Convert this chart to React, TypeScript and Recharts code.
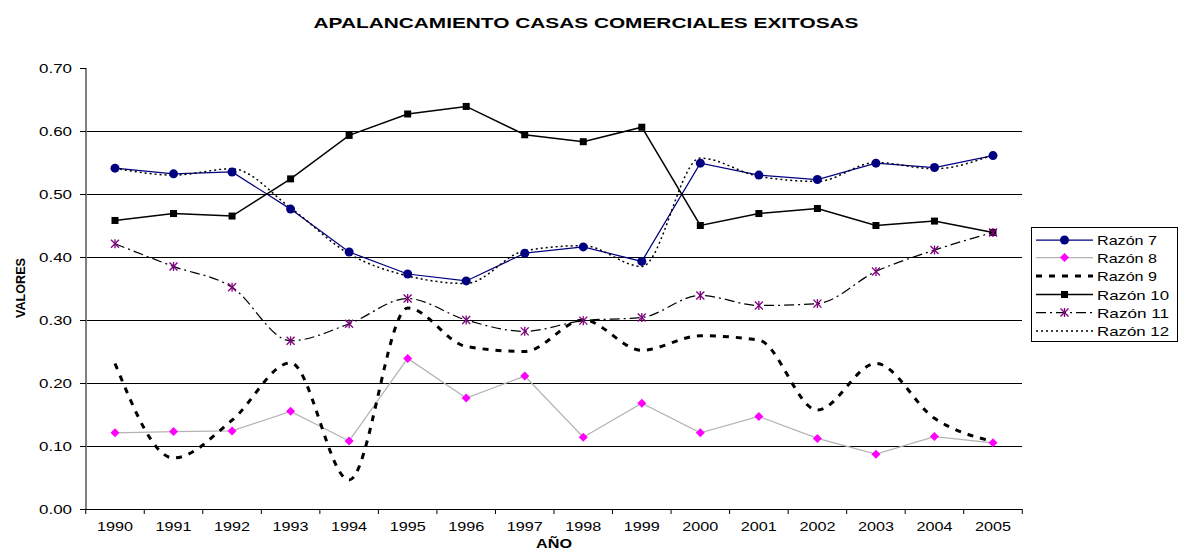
import { LineChart, Line, XAxis, YAxis, CartesianGrid, Legend } from "recharts";

const years = ["1990", "1991", "1992", "1993", "1994", "1995", "1996", "1997", "1998", "1999", "2000", "2001", "2002", "2003", "2004", "2005"];
const razon7 = [0.541, 0.532, 0.535, 0.476, 0.408, 0.373, 0.362, 0.406, 0.416, 0.393, 0.549, 0.53, 0.523, 0.549, 0.542, 0.561];
const razon8 = [0.121, 0.123, 0.124, 0.155, 0.108, 0.239, 0.176, 0.211, 0.114, 0.168, 0.121, 0.147, 0.112, 0.087, 0.115, 0.105];
const razon9 = [0.231, 0.081, 0.141, 0.232, 0.046, 0.319, 0.258, 0.25, 0.3, 0.252, 0.275, 0.268, 0.157, 0.231, 0.144, 0.107];
const razon10 = [0.458, 0.469, 0.465, 0.524, 0.593, 0.627, 0.639, 0.594, 0.583, 0.606, 0.45, 0.469, 0.477, 0.45, 0.457, 0.439];
const razon11 = [0.421, 0.385, 0.352, 0.267, 0.294, 0.334, 0.3, 0.282, 0.299, 0.304, 0.339, 0.323, 0.326, 0.377, 0.411, 0.439];
const razon12 = [0.541, 0.53, 0.54, 0.478, 0.405, 0.37, 0.358, 0.41, 0.418, 0.385, 0.557, 0.528, 0.52, 0.55, 0.54, 0.562];

const yTicks = [0, 0.1, 0.2, 0.3, 0.4, 0.5, 0.6, 0.7];
const gridValues = [0.1, 0.2, 0.3, 0.4, 0.5, 0.6];

const data = years.map((year, i) => ({
  year,
  r7: razon7[i],
  r8: razon8[i],
  r9: razon9[i],
  r10: razon10[i],
  r11: razon11[i],
  r12: razon12[i],
}));

type MarkerKind = "circle" | "diamond" | "square" | "star" | "none";

interface SeriesDef {
  key: string;
  name: string;
  stroke: string;
  width: number;
  dash?: string;
  curve: "linear" | "monotone";
  marker: MarkerKind;
  textLen: number;
}

const series: SeriesDef[] = [
  { key: "r7", name: "Razón 7", stroke: "#000080", width: 1.25, curve: "linear", marker: "circle", textLen: 60 },
  { key: "r8", name: "Razón 8", stroke: "#b4b4b4", width: 1.25, curve: "linear", marker: "diamond", textLen: 60 },
  { key: "r9", name: "Razón 9", stroke: "#000", width: 3, dash: "6 7", curve: "monotone", marker: "none", textLen: 60 },
  { key: "r10", name: "Razón 10", stroke: "#000", width: 1.5, curve: "linear", marker: "square", textLen: 72 },
  { key: "r11", name: "Razón 11", stroke: "#000", width: 1.25, dash: "10 4 2 4", curve: "monotone", marker: "star", textLen: 72 },
  { key: "r12", name: "Razón 12", stroke: "#000", width: 1.5, dash: "2 3", curve: "monotone", marker: "none", textLen: 72 },
];

const FONT = "'Liberation Sans', Arial, sans-serif";

function Marker({ kind, cx, cy }: { kind: MarkerKind; cx: number; cy: number }) {
  if (kind === "circle") return <circle cx={cx} cy={cy} r={4.5} fill="#000080" />;
  if (kind === "diamond")
    return <polygon points={`${cx},${cy - 4.5} ${cx + 4.5},${cy} ${cx},${cy + 4.5} ${cx - 4.5},${cy}`} fill="#ff00ff" />;
  if (kind === "square") return <rect x={cx - 3.5} y={cy - 3.5} width={7} height={7} fill="#000" />;
  if (kind === "star")
    return (
      <g stroke="#800080" strokeWidth={1.3}>
        <line x1={cx - 4} y1={cy - 4} x2={cx + 4} y2={cy + 4} />
        <line x1={cx - 4} y1={cy + 4} x2={cx + 4} y2={cy - 4} />
        <line x1={cx} y1={cy - 4.5} x2={cx} y2={cy + 4.5} />
      </g>
    );
  return null;
}

const HALF_STEP = 29.27;

function YearTick(props: any) {
  const { x, y, payload, index } = props;
  return (
    <g>
      <line x1={x - HALF_STEP} y1={y} x2={x - HALF_STEP} y2={y + 5} stroke="#000" />
      {index === years.length - 1 && <line x1={x + HALF_STEP} y1={y} x2={x + HALF_STEP} y2={y + 5} stroke="#000" />}
      <text x={x} y={y + 22} textAnchor="middle" fontSize={13} fontFamily={FONT} fill="#000" textLength={36} lengthAdjust="spacingAndGlyphs">
        {payload.value}
      </text>
    </g>
  );
}

function ValueTick(props: any) {
  const { x, y, payload } = props;
  return (
    <text x={x} y={y + 5} textAnchor="end" fontSize={13} fontFamily={FONT} fill="#000" textLength={33} lengthAdjust="spacingAndGlyphs">
      {Number(payload.value).toFixed(2)}
    </text>
  );
}

function LegendBox() {
  const rowY = [13, 30.5, 49, 67.5, 85.5, 104];
  return (
    <svg width={147} height={115} style={{ display: "block" }}>
      <rect x={0.5} y={0.5} width={146} height={114} fill="#fff" stroke="#000" />
      {series.map((s, i) => (
        <g key={s.key}>
          <line x1={5} y1={rowY[i]} x2={62} y2={rowY[i]} stroke={s.stroke} strokeWidth={s.width} strokeDasharray={s.dash} />
          <Marker kind={s.marker} cx={33.5} cy={rowY[i]} />
          <text x={66} y={rowY[i] + 5} fontSize={13} fontFamily={FONT} fill="#000" textLength={s.textLen} lengthAdjust="spacingAndGlyphs">
            {s.name}
          </text>
        </g>
      ))}
    </svg>
  );
}

export default function App() {
  return (
    <div style={{ position: "absolute", left: 0, top: 0, width: 1180, height: 552, background: "#fff", fontFamily: FONT }}>
      <LineChart width={1180} height={552} data={data} margin={{ top: 68, right: 11, bottom: 0, left: 0 }}>
        <text x={586} y={28} textAnchor="middle" fontSize={15} fontWeight="bold" fontFamily={FONT} textLength={545} lengthAdjust="spacingAndGlyphs">
          APALANCAMIENTO CASAS COMERCIALES EXITOSAS
        </text>
        <text
          x={0}
          y={0}
          transform="translate(25,288) rotate(-90)"
          textAnchor="middle"
          fontSize={13}
          fontWeight="bold"
          fontFamily={FONT}
          textLength={60}
          lengthAdjust="spacingAndGlyphs"
        >
          VALORES
        </text>
        <text x={554} y={548} textAnchor="middle" fontSize={13} fontWeight="bold" fontFamily={FONT} textLength={36} lengthAdjust="spacingAndGlyphs">
          AÑO
        </text>
        <CartesianGrid vertical={false} stroke="#000" strokeWidth={1} shapeRendering="crispEdges" horizontalValues={gridValues} />
        <XAxis
          dataKey="year"
          interval={0}
          height={43}
          padding={{ left: 29, right: 29 }}
          axisLine={{ stroke: "#000", shapeRendering: "crispEdges" }}
          tickLine={false}
          tickSize={0}
          tickMargin={0}
          tick={<YearTick />}
        />
        <YAxis
          width={86}
          domain={[0, 0.7]}
          ticks={yTicks}
          axisLine={{ stroke: "#808080", strokeWidth: 2 }}
          tickLine={{ stroke: "#000", shapeRendering: "crispEdges" }}
          tickSize={6}
          tickMargin={8}
          tick={<ValueTick />}
        />
        <Legend
          layout="vertical"
          align="right"
          verticalAlign="middle"
          wrapperStyle={{ position: "absolute", left: 1031, top: 227, width: 147, height: 115 }}
          content={() => <LegendBox />}
        />
        {series.map((s) => (
          <Line
            key={s.key}
            dataKey={s.key}
            name={s.name}
            type={s.curve}
            stroke={s.stroke}
            strokeWidth={s.width}
            strokeDasharray={s.dash}
            isAnimationActive={false}
            activeDot={false}
            dot={
              s.marker === "none"
                ? false
                : (p: any) => <Marker key={`${s.key}-${p.index}`} kind={s.marker} cx={p.cx} cy={p.cy} />
            }
          />
        ))}
      </LineChart>
    </div>
  );
}
